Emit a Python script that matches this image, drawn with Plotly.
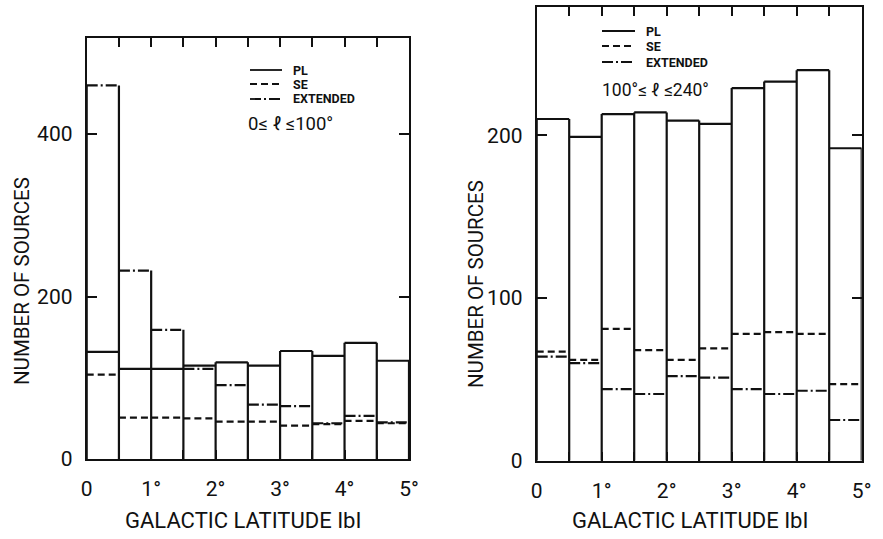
import plotly.graph_objects as go

# ---------------- data ----------------
bin_edges = [0, 0.5, 1, 1.5, 2, 2.5, 3, 3.5, 4, 4.5, 5]

# Left panel: 0 <= l <= 100 deg
left_pl = [132, 111, 111, 115, 119, 115, 133, 127, 143, 121]
left_se = [104, 51, 51, 50, 46, 46, 41, 43, 47, 44]
left_ext = [460, 232, 159, 111, 91, 67, 65, 44, 53, 45]

# Right panel: 100 <= l <= 240 deg
right_pl = [210, 199, 213, 214, 209, 207, 229, 233, 240, 192]
right_se = [67, 62, 81, 68, 62, 69, 78, 79, 78, 47]
right_ext = [64, 60, 44, 41, 52, 51, 44, 41, 43, 25]

x_tickvals = [0, 0.5, 1, 1.5, 2, 2.5, 3, 3.5, 4, 4.5, 5]
x_ticktext = ["0", "", "1°", "", "2°", "", "3°", "", "4°", "", "5°"]
left_yticks = [0, 200, 400]
right_yticks = [0, 100, 200]

series_names = ["PL", "SE", "EXTENDED"]
dashes = ["solid", "7px,4px", "11px,3px,2px,3px"]

W, H = 883, 539
FONT = "Roboto, Liberation Sans, sans-serif"
INK = "#111111"


def px(x, y):
    return x / W, 1 - y / H


fig = go.Figure()


def add_panel(xa, ya, series):
    # horizontal tops for each series
    for vals, dash, name in zip(series, dashes, series_names):
        xs, ys = [], []
        for i, v in enumerate(vals):
            xs += [bin_edges[i], bin_edges[i + 1], None]
            ys += [v, v, None]
        fig.add_trace(go.Scatter(x=xs, y=ys, mode="lines", name=name,
                                 line=dict(color=INK, width=2.2, dash=dash),
                                 xaxis=xa, yaxis=ya, showlegend=False,
                                 hoverinfo="skip"))
    # vertical bin edges (solid) up to the highest adjacent value
    nb = len(bin_edges) - 1
    tops = [max(s[i] for s in series) for i in range(nb)]
    xs, ys = [], []
    for k, e in enumerate(bin_edges):
        adj = [tops[j] for j in (k - 1, k) if 0 <= j < nb]
        xs += [e, e, None]
        ys += [0, max(adj), None]
    fig.add_trace(go.Scatter(x=xs, y=ys, mode="lines",
                             line=dict(color=INK, width=2.2),
                             xaxis=xa, yaxis=ya, showlegend=False,
                             hoverinfo="skip"))


add_panel("x", "y", [left_pl, left_se, left_ext])
add_panel("x2", "y2", [right_pl, right_se, right_ext])

tickfont = dict(family=FONT, size=21, color=INK)


def xaxis(domain):
    return dict(domain=domain, range=[0, 5], tickvals=x_tickvals, ticktext=x_ticktext,
                ticks="inside", ticklen=9, tickwidth=2, tickcolor=INK,
                showline=True, linewidth=2, linecolor=INK, mirror="ticks",
                showgrid=False, zeroline=False, tickfont=tickfont,
                ticklabelstandoff=10, fixedrange=True, automargin=False)


def yaxis(domain, rng, tv, anchor):
    return dict(domain=domain, range=rng, tickvals=tv, ticktext=[str(v) for v in tv],
                ticks="inside", ticklen=10, tickwidth=2, tickcolor=INK,
                showline=True, linewidth=2, linecolor=INK, mirror="ticks",
                showgrid=False, zeroline=False, tickfont=tickfont,
                ticklabelstandoff=8, anchor=anchor, fixedrange=True, automargin=False)


lx0, lx1 = 86.7 / W, 409 / W
rx0, rx1 = 536.7 / W, 861.7 / W
ly0, ly1 = 1 - 459 / H, 1 - 38.3 / H
ry0, ry1 = 1 - 460.7 / H, 1 - 6.7 / H

fig.update_layout(
    width=W, height=H,
    margin=dict(l=0, r=0, t=0, b=0, autoexpand=False),
    paper_bgcolor="white", plot_bgcolor="white",
    xaxis=dict(**xaxis([lx0, lx1]), anchor="y"),
    yaxis=yaxis([ly0, ly1], [0, 518], left_yticks, "x"),
    xaxis2=dict(**xaxis([rx0, rx1]), anchor="y2"),
    yaxis2=yaxis([ry0, ry1], [0, 279], right_yticks, "x2"),
    showlegend=False,
)

annotations = []
shapes = []

# axis titles
for cx, cy in [(243, 520), (690, 520)]:
    x, y = px(cx, cy)
    annotations.append(dict(x=x, y=y, xref="paper", yref="paper", text="GALACTIC LATITUDE IbI",
                            showarrow=False, font=dict(family=FONT, size=22, color=INK),
                            xanchor="center", yanchor="middle"))
for cx, cy in [(22, 281), (476, 284)]:
    x, y = px(cx, cy)
    annotations.append(dict(x=x, y=y, xref="paper", yref="paper", text="NUMBER OF SOURCES",
                            showarrow=False, textangle=-90,
                            font=dict(family=FONT, size=20.5, color=INK),
                            xanchor="center", yanchor="middle"))

# legends
def legend(x0, x1, tx, rows):
    for (name, dash), ry in zip(zip(series_names, dashes), rows):
        a, b = px(x0, ry)
        c, _ = px(x1, ry)
        shapes.append(dict(type="line", xref="paper", yref="paper", x0=a, x1=c, y0=b, y1=b,
                           line=dict(color=INK, width=1.8, dash=dash)))
        t, _ = px(tx, ry)
        annotations.append(dict(x=t, y=b, xref="paper", yref="paper", text="<b>" + name + "</b>",
                                showarrow=False, xanchor="left", yanchor="middle",
                                font=dict(family=FONT, size=12.5, color=INK)))


legend(250, 282, 291, [70, 84, 99])
legend(602, 635, 644, [31, 46, 62])

x, y = px(246, 124)
annotations.append(dict(x=x, y=y, xref="paper", yref="paper", text="0≤ ℓ ≤100°",
                        showarrow=False, xanchor="left", yanchor="middle",
                        font=dict(family=FONT, size=18.5, color=INK)))
x, y = px(600, 90)
annotations.append(dict(x=x, y=y, xref="paper", yref="paper", text="100°≤ ℓ ≤240°",
                        showarrow=False, xanchor="left", yanchor="middle",
                        font=dict(family=FONT, size=17.5, color=INK)))

fig.update_layout(annotations=annotations, shapes=shapes)

fig.write_html("out.html", config={"displayModeBar": False},
               post_script="document.body.style.margin='0px';document.body.style.overflow='hidden';")
